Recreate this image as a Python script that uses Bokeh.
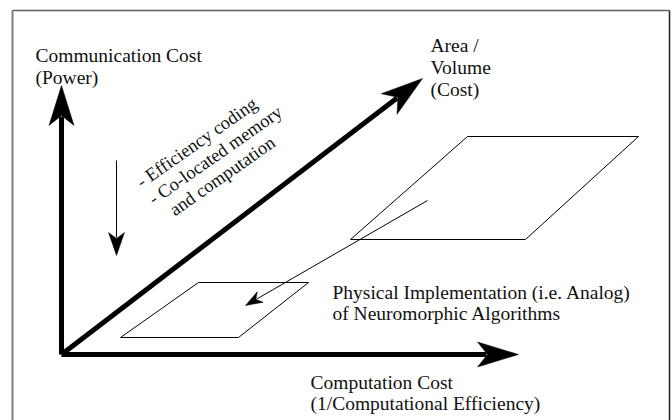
import math
from bokeh.plotting import figure
from bokeh.models import Range1d
from bokeh.core.properties import value
from bokeh.embed import file_html
from bokeh.resources import INLINE

# ---- diagram geometry (screen-like coordinates, y grows downward) ----
origin = (61, 354)
y_axis_tip = (61, 85)
x_axis_tip = (518, 354)
z_axis_tip = (422, 78)

small_para_x = [198, 308, 238, 120]
small_para_y = [282, 282, 337, 337]
large_para_x = [467, 638, 525, 350]
large_para_y = [136, 136, 239, 239]

mapping_arrow_start = (427, 200)
mapping_arrow_end = (245, 305)
trend_arrow_start = (116, 160)
trend_arrow_end = (116, 255)

y_label = ["Communication Cost", "(Power)"]
z_label = ["Area /", "Volume", "(Cost)"]
x_label = ["Computation Cost", "(1/Computational Efficiency)"]
impl_label = ["Physical Implementation (i.e. Analog)", "of Neuromorphic Algorithms"]
trend_label = ["- Efficiency coding", "- Co-located memory", "and computation"]

FONT = value("Liberation Serif")
FS = "19.5px"

p = figure(width=672, height=420, output_backend="svg", toolbar_location=None,
           x_range=Range1d(0, 672), y_range=Range1d(420, 0), min_border=0)
p.axis.visible = False
p.grid.visible = False
p.outline_line_color = None
p.background_fill_color = "white"


def head(tail, tip, L, W, notch):
    dx, dy = tip[0] - tail[0], tip[1] - tail[1]
    n = math.hypot(dx, dy)
    ux, uy = dx / n, dy / n
    nx, ny = -uy, ux
    bx, by = tip[0] - L * ux, tip[1] - L * uy
    xs = [tip[0], bx + W * nx, tip[0] - notch * ux, bx - W * nx]
    ys = [tip[1], by + W * ny, tip[1] - notch * uy, by - W * ny]
    shaft_end = (tip[0] - (notch + 1) * ux, tip[1] - (notch + 1) * uy)
    return xs, ys, shaft_end


def arrow(tail, tip, L, W, notch, lw):
    xs, ys, se = head(tail, tip, L, W, notch)
    p.line([tail[0], se[0]], [tail[1], se[1]], line_color="black", line_width=lw)
    p.patch(xs, ys, fill_color="black", line_color="black", line_width=0.5)


# frame
p.line([12, 12], [10, 420], line_color="#808080", line_width=2)
p.line([12, 669], [10, 10], line_color="#606060", line_width=1.5)
p.line([669, 669], [10, 420], line_color="#202020", line_width=1.5)

# axes
arrow(origin, y_axis_tip, 40, 12.5, 30, 5)
arrow(origin, x_axis_tip, 41, 12.5, 31, 5)
arrow(origin, z_axis_tip, 42, 13, 31, 5)

# parallelograms
p.patch(small_para_x, small_para_y, fill_color=None, line_color="black", line_width=1)
p.patch(large_para_x, large_para_y, fill_color=None, line_color="black", line_width=1)

# thin arrows
arrow(mapping_arrow_start, mapping_arrow_end, 17, 6, 12, 1)
arrow(trend_arrow_start, trend_arrow_end, 23, 8, 17, 1)


# labels
def lines(labels, x0, y0, step):
    p.text([x0] * len(labels), [y0 + i * step for i in range(len(labels))], text=labels,
           text_font=FONT, text_font_size=FS, text_color="#111111",
           text_baseline="alphabetic", text_align="left")


lines(y_label, 35, 55, 22)
lines(z_label, 430, 45, 22)
lines(impl_label, 332, 292, 21)
lines(x_label, 310, 382, 21)

# rotated annotation
ang = math.radians(35)
bx0, by0 = 138, 183
sp = 21
nx, ny = math.sin(ang), math.cos(ang)
ux, uy = math.cos(ang), -math.sin(ang)
indents = [0, 0, 11]
tx = [bx0 + i * sp * nx + indents[i] * ux for i in range(3)]
ty = [by0 + i * sp * ny + indents[i] * uy for i in range(3)]
p.text(tx, ty, text=trend_label, angle=ang, text_font=FONT, text_font_size="18.5px",
       text_color="#111111", text_baseline="alphabetic", text_align="left")

open("out.html", "w").write(file_html(p, INLINE))
